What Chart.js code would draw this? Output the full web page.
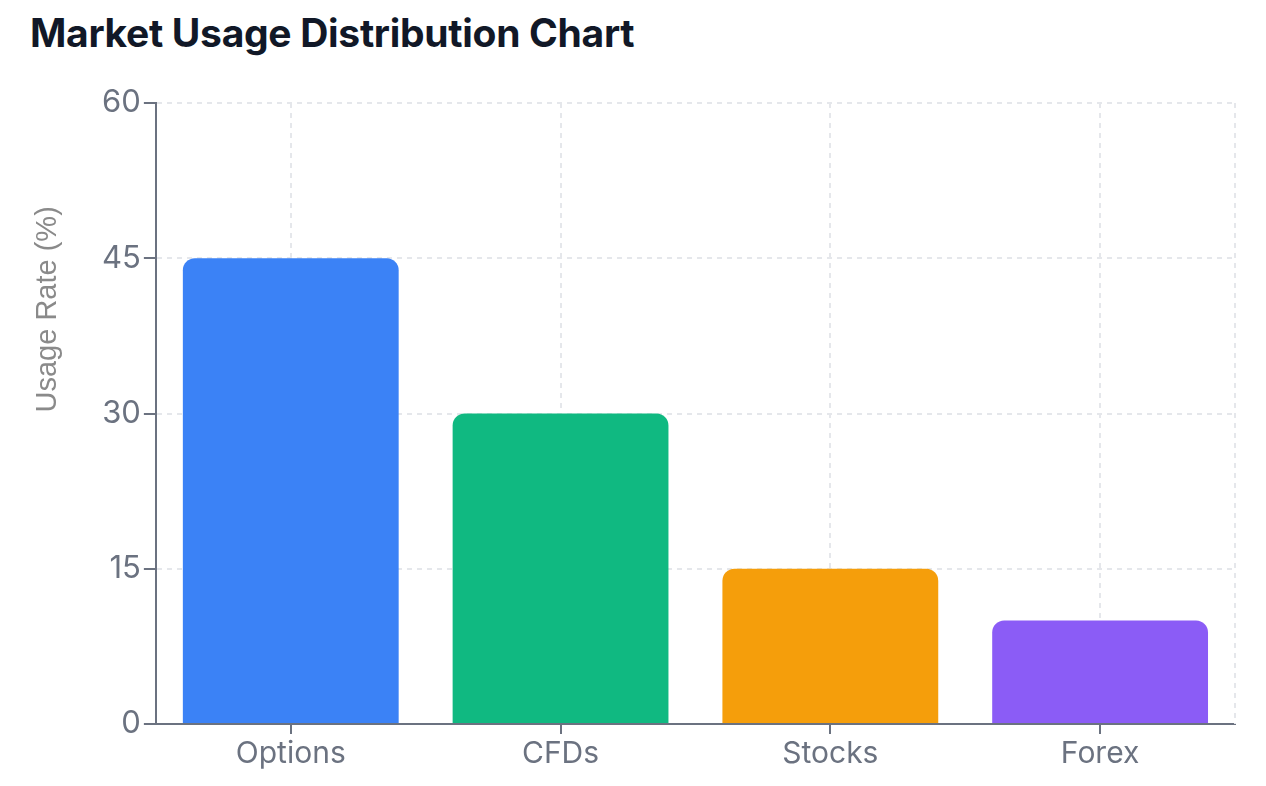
<!DOCTYPE html>
<html>
<head>
<meta charset="utf-8">
<script src="https://cdn.jsdelivr.net/npm/chart.js@4"></script>
<style>
  body { margin: 0; background: #fff; }
  #wrap { position: relative; width: 1266px; height: 786px; }
  #title {
    position: absolute; left: 30px; top: 9px;
    font-family: Inter, "Noto Sans", sans-serif; font-weight: 700;
    font-size: 39px; color: #111827; letter-spacing: -0.3px;
  }
  #myChart { position: absolute; left: 0; top: 0; }
</style>
</head>
<body>
<div id="wrap">
  <div id="title">Market Usage Distribution Chart</div>
  <canvas id="myChart" width="1266" height="786"></canvas>
</div>
<script>
const categories = ['Options', 'CFDs', 'Stocks', 'Forex'];
const usageRate = [45, 30, 15, 10];
const barColors = ['#3B82F6', '#10B981', '#F59E0B', '#8B5CF6'];
const yTicks = [0, 15, 30, 45, 60];
const yTitle = 'Usage Rate (%)';

const ctx = document.getElementById('myChart');

// dashed line closing the plot on the right + y title starting at mid height
const extras = {
    id: 'extras',
    beforeDatasetsDraw(chart) {
        const a = chart.chartArea;
        const c = chart.ctx;
        c.save();
        c.strokeStyle = '#E5E7EB';
        c.lineWidth = 2;
        c.setLineDash([5, 5]);
        c.beginPath();
        c.moveTo(a.right, a.top);
        c.lineTo(a.right, a.bottom);
        c.stroke();
        c.restore();
    },
    afterDraw(chart) {
        const a = chart.chartArea;
        const c = chart.ctx;
        c.save();
        c.translate(48, (a.top + a.bottom) / 2 - 1);
        c.rotate(-Math.PI / 2);
        c.fillStyle = '#8A8A8A';
        c.font = '29px "Liberation Sans"';
        c.textAlign = 'left';
        c.textBaseline = 'middle';
        c.fillText(yTitle, 0, 0);
        c.restore();
    }
};

new Chart(ctx, {
    type: 'bar',
    data: {
        labels: categories,
        datasets: [{
            label: yTitle,
            data: usageRate,
            backgroundColor: barColors,
            borderRadius: 12,
            barPercentage: 0.8,
            categoryPercentage: 1
        }]
    },
    plugins: [extras],
    options: {
        responsive: false,
        animation: false,
        layout: { padding: { top: 103, left: 99, right: 31, bottom: 12 } },
        plugins: {
            legend: { display: false },
            tooltip: { enabled: false }
        },
        scales: {
            x: {
                grid: {
                    offset: false,
                    color: '#E5E7EB',
                    lineWidth: 2,
                    tickColor: '#6B7280',
                    tickLength: 10
                },
                border: { color: '#6B7280', width: 2, dash: [5, 5] },
                ticks: {
                    color: '#6B7280',
                    font: { family: 'Inter', size: 30 },
                    padding: 2
                }
            },
            y: {
                min: 0,
                max: 60,
                afterBuildTicks: axis => { axis.ticks = yTicks.map(v => ({ value: v })); },
                grid: {
                    color: '#E5E7EB',
                    lineWidth: 2,
                    tickColor: '#6B7280',
                    tickLength: 12
                },
                border: { color: '#6B7280', width: 2, dash: [5, 5] },
                ticks: {
                    color: '#6B7280',
                    font: { family: 'Inter', size: 31 },
                    padding: 3
                }
            }
        }
    }
});
</script>
</body>
</html>
